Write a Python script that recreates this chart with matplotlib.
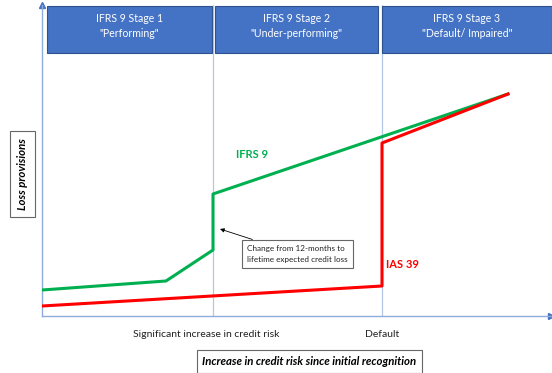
import matplotlib.pyplot as plt
from matplotlib.patches import Rectangle

plt.rcParams['font.family'] = ['Lato', 'DejaVu Sans']

# credit-risk axis (x) vs loss provisions (y), arbitrary units
ifrs9_x = [0, 124, 171, 171, 466]
ifrs9_y = [26, 35, 66, 122, 222]
ias39_x = [0, 340, 340, 466]
ias39_y = [10, 30, 173, 222]

sicr_x = 171      # significant increase in credit risk
default_x = 340   # default

stage_titles = ['IFRS 9 Stage 1\n"Performing"',
                'IFRS 9 Stage 2\n"Under-performing"',
                'IFRS 9 Stage 3\n"Default/ Impaired"']
stage_spans = [(5, 170), (173, 336), (340, 510)]

tick_labels = ['Significant increase in credit risk', 'Default']

fig = plt.figure(figsize=(5.52, 3.73), dpi=100)
ax = fig.add_axes([42 / 552, 57 / 373, 509 / 552, 311 / 373])
ax.set_xlim(0, 509)
ax.set_ylim(0, 311)

axis_col = '#8FAADC'
grid_col = '#B4C7E7'
for s in ['top', 'right']:
    ax.spines[s].set_visible(False)
for s in ['left', 'bottom']:
    ax.spines[s].set_color(axis_col)
    ax.spines[s].set_linewidth(1.0)
ax.set_yticks([])
ax.set_xticks([sicr_x - 7, default_x])
ax.set_xticklabels(tick_labels, fontsize=7.5, color='#222222')
ax.tick_params(axis='x', length=0, pad=10)

# arrow heads on the axes
ax.plot(1, 0, '>', color='#4472C4', markersize=4, transform=ax.transAxes, clip_on=False)
ax.plot(0, 1, '^', color='#4472C4', markersize=4, transform=ax.transAxes, clip_on=False)

# stage boundaries
for xb in [sicr_x, default_x]:
    ax.plot([xb, xb], [0, 311], color=grid_col, lw=0.9, zorder=1)

# stage header boxes
for (x0, x1), title in zip(stage_spans, stage_titles):
    ax.add_patch(Rectangle((x0, 263), x1 - x0, 47, facecolor='#4472C4',
                           edgecolor='#2F528F', lw=0.8, clip_on=False, zorder=3))
    ax.text((x0 + x1) / 2, 290, title, ha='center', va='center', color='white',
            fontsize=7.6, linespacing=1.5, zorder=4)

ax.plot(ifrs9_x, ifrs9_y, color='#00B050', lw=2.2, zorder=5)
ax.plot(ias39_x, ias39_y, color='#FF0000', lw=2.2, zorder=5)

ax.text(194, 162, 'IFRS 9', color='#00B050', fontsize=8, fontweight='bold', va='center')
ax.text(344, 51, 'IAS 39', color='#FF0000', fontsize=8, fontweight='bold', va='center')

ax.annotate('Change from 12-months to\nlifetime expected credit loss',
            xy=(178, 87), xytext=(205, 62), fontsize=5.9, va='center', ha='left',
            color='#222222', linespacing=1.6,
            bbox=dict(boxstyle='square,pad=0.65', fc='white', ec='#666666', lw=0.8),
            arrowprops=dict(arrowstyle='-|>', color='black', lw=0.6,
                            mutation_scale=6, shrinkA=0, shrinkB=0))

fig.text(22.5 / 552, 1 - 174 / 373, 'Loss provisions', rotation=90, ha='center',
         va='center', fontsize=8.2, fontweight='bold', fontstyle='italic',
         bbox=dict(boxstyle='square,pad=0.6', fc='white', ec='#666666', lw=0.8))
fig.text(309.5 / 552, 1 - 361.5 / 373, 'Increase in credit risk since initial recognition',
         ha='center', va='center', fontsize=8.2, fontweight='bold', fontstyle='italic',
         bbox=dict(boxstyle='square,pad=0.5', fc='white', ec='#666666', lw=0.8))

fig.savefig('out.png', dpi=100)
